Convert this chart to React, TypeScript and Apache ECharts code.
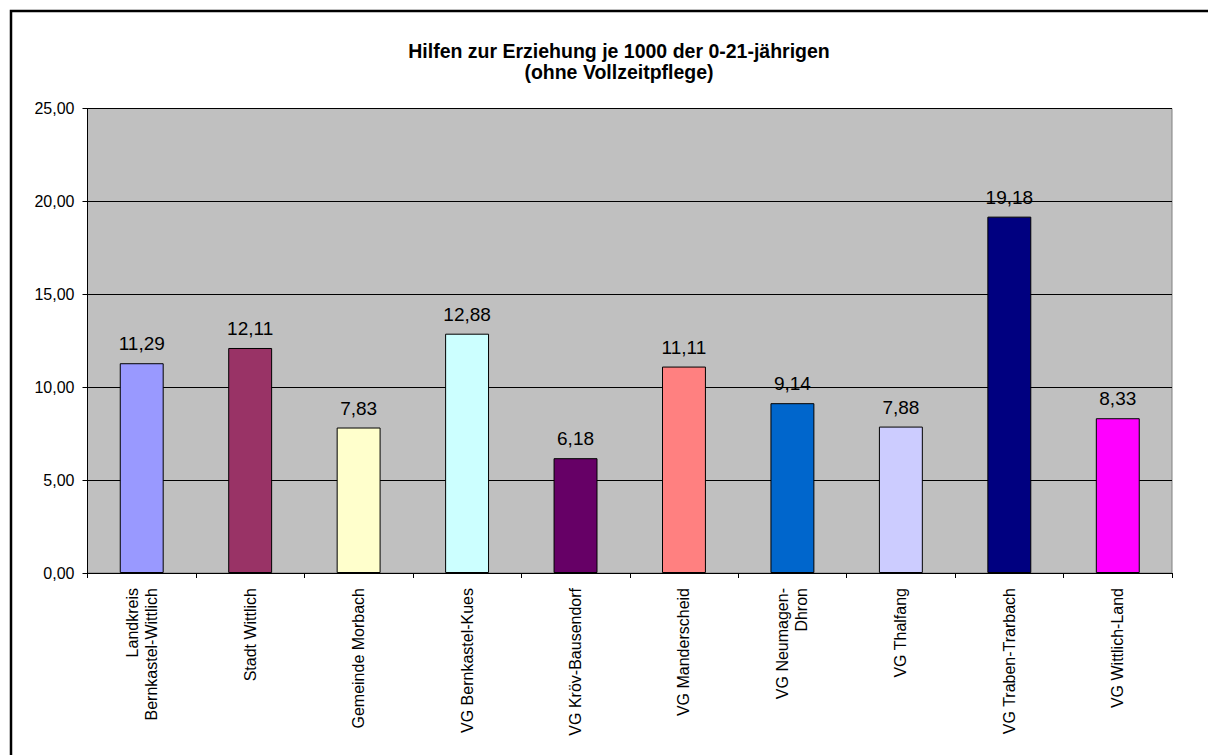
import React, { useEffect, useRef } from "react";
import * as echarts from "echarts";

const titleLines = ["Hilfen zur Erziehung je 1000 der 0-21-jährigen", "(ohne Vollzeitpflege)"];
const categories = [
  "Landkreis\nBernkastel-Wittlich",
  "Stadt Wittlich",
  "Gemeinde Morbach",
  "VG Bernkastel-Kues",
  "VG Kröv-Bausendorf",
  "VG Manderscheid",
  "VG Neumagen-\nDhron",
  "VG Thalfang",
  "VG Traben-Trarbach",
  "VG Wittlich-Land",
];
const values = [11.29, 12.11, 7.83, 12.88, 6.18, 11.11, 9.14, 7.88, 19.18, 8.33];
const barColors = [
  "#9999FF",
  "#993366",
  "#FFFFCC",
  "#CCFFFF",
  "#660066",
  "#FF8080",
  "#0066CC",
  "#CCCCFF",
  "#000080",
  "#FF00FF",
];
const yMin = 0;
const yMax = 25;
const yStep = 5;

const FONT = "Arial, 'Liberation Sans', sans-serif";
const fmt = (v: number) => v.toFixed(2).replace(".", ",");

export default function App() {
  const ref = useRef<HTMLDivElement>(null);
  useEffect(() => {
    if (!ref.current) return;
    const chart = echarts.init(ref.current, null, { renderer: "svg" });
    chart.setOption({
      animation: false,
      backgroundColor: "#FFFFFF",
      title: {
        text: titleLines.join("\n"),
        left: 614,
        textAlign: "center",
        top: 35,
        textStyle: {
          fontFamily: FONT,
          fontSize: 19.5,
          fontWeight: "bold",
          color: "#000",
          lineHeight: 21,
        },
      },
      graphic: [
        {
          type: "rect",
          shape: { x: 11, y: 11, width: 1300, height: 900 },
          style: { fill: "none", stroke: "#000", lineWidth: 2.5 },
          silent: true,
          z: 100,
        },
      ],
      grid: {
        left: 87.5,
        top: 108.5,
        right: 36,
        bottom: 182,
        show: true,
        backgroundColor: "#C0C0C0",
        borderColor: "#808080",
        borderWidth: 1,
        containLabel: false,
      },
      xAxis: {
        type: "category",
        data: categories,
        boundaryGap: true,
        axisLine: { show: true, lineStyle: { color: "#000", width: 1 } },
        axisTick: { show: true, alignWithLabel: false, length: 5, lineStyle: { color: "#000" } },
        axisLabel: {
          rotate: 90,
          interval: 0,
          margin: 15,
          fontFamily: FONT,
          fontSize: 16,
          color: "#000",
          lineHeight: 19,
        },
      },
      yAxis: {
        type: "value",
        min: yMin,
        max: yMax,
        interval: yStep,
        axisLine: { show: true, lineStyle: { color: "#000", width: 1 } },
        axisTick: { show: true, length: 5, lineStyle: { color: "#000" } },
        splitLine: { show: true, lineStyle: { color: "#000", width: 1 } },
        axisLabel: {
          formatter: (v: number) => fmt(v),
          fontFamily: FONT,
          fontSize: 16,
          color: "#000",
          margin: 13,
        },
      },
      series: [
        {
          type: "bar",
          data: values.map((v, i) => ({
            value: v,
            itemStyle: { color: barColors[i] },
          })),
          barWidth: "40.5%",
          itemStyle: { borderColor: "#000", borderWidth: 1 },
          label: {
            show: true,
            position: "top",
            distance: 10,
            formatter: (p: any) => fmt(p.value),
            fontFamily: FONT,
            fontSize: 19,
            color: "#000",
          },
        },
      ],
    });
    return () => chart.dispose();
  }, []);
  return (
    <div
      ref={ref}
      style={{ position: "fixed", left: 0, top: 0, width: 1208, height: 755 }}
    />
  );
}
